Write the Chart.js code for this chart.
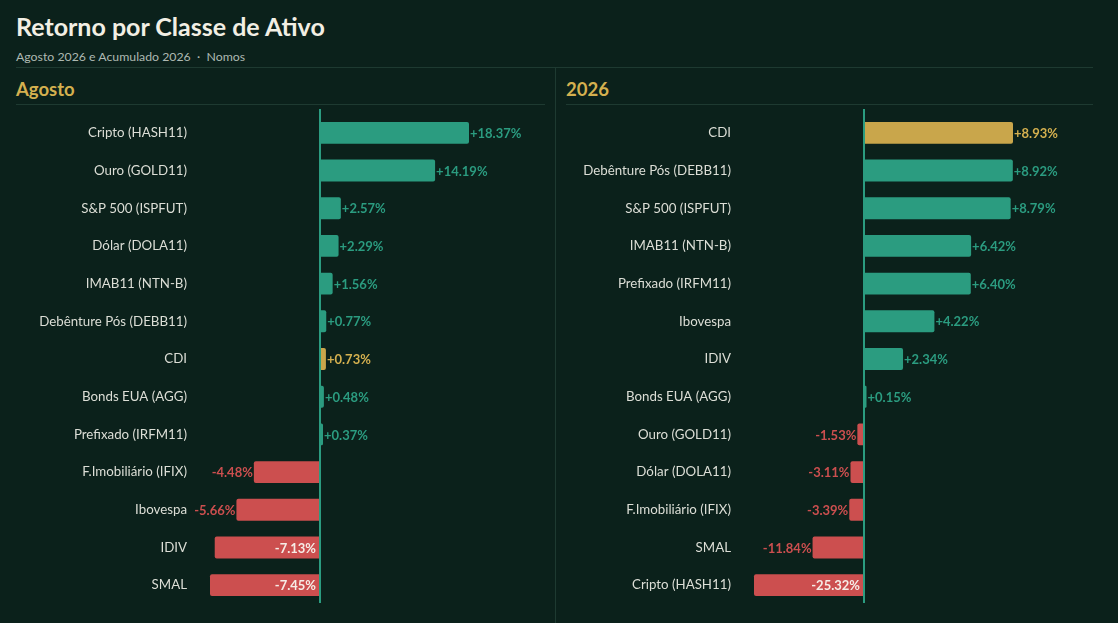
<!DOCTYPE html>
<html lang="pt-BR">
<head>
<meta charset="utf-8">
<title>Retorno por Classe de Ativo</title>
<script src="https://cdn.jsdelivr.net/npm/chart.js@4.4.1/dist/chart.umd.min.js"></script>
<style>
  html, body { margin: 0; padding: 0; }
  body {
    width: 1118px; height: 623px; overflow: hidden; position: relative;
    background: #0b211b; font-family: Lato, "Noto Sans", sans-serif;
  }
  .title { position: absolute; left: 16px; top: 11px; font-size: 25px; font-weight: 700; color: #f2efe4; }
  .subtitle { position: absolute; left: 16px; top: 49px; font-size: 12.3px; color: #aeb9b2; }
  .rule-top { position: absolute; left: 16px; top: 67px; width: 1077px; height: 1px; background: #1e3a31; }
  .rule-mid { position: absolute; left: 555px; top: 68px; width: 1px; height: 555px; background: #1e3a31; }
  .panel-head { position: absolute; top: 78px; font-size: 18.5px; font-weight: 700; color: #d4b04f; }
  .panel-rule { position: absolute; top: 104px; height: 1px; background: #1e3a31; }
  .chart-box { position: absolute; top: 97px; height: 524px; }
</style>
</head>
<body>
<div class="title">Retorno por Classe de Ativo</div>
<div class="subtitle">Agosto 2026 e Acumulado 2026 &nbsp;·&nbsp; Nomos</div>
<div class="rule-top"></div>
<div class="rule-mid"></div>

<div class="panel-head" style="left:16px">Agosto</div>
<div class="panel-rule" style="left:16px;width:529px"></div>
<div class="chart-box" style="left:16px;width:529px"><canvas id="augChart"></canvas></div>

<div class="panel-head" style="left:566px">2026</div>
<div class="panel-rule" style="left:566px;width:527px"></div>
<div class="chart-box" style="left:566px;width:527px"><canvas id="ytdChart"></canvas></div>

<script>
// dados
const augLabels = [
  "Cripto (HASH11)", "Ouro (GOLD11)", "S&P 500 (ISPFUT)", "Dólar (DOLA11)",
  "IMAB11 (NTN-B)", "Debênture Pós (DEBB11)", "CDI", "Bonds EUA (AGG)",
  "Prefixado (IRFM11)", "F.Imobiliário (IFIX)", "Ibovespa", "IDIV", "SMAL",
];
const augValues = [18.37, 14.19, 2.57, 2.29, 1.56, 0.77, 0.73, 0.48, 0.37, -4.48, -5.66, -7.13, -7.45];

const ytdLabels = [
  "CDI", "Debênture Pós (DEBB11)", "S&P 500 (ISPFUT)", "IMAB11 (NTN-B)",
  "Prefixado (IRFM11)", "Ibovespa", "IDIV", "Bonds EUA (AGG)", "Ouro (GOLD11)",
  "Dólar (DOLA11)", "F.Imobiliário (IFIX)", "SMAL", "Cripto (HASH11)",
];
const ytdValues = [8.93, 8.92, 8.79, 6.42, 6.40, 4.22, 2.34, 0.15, -1.53, -3.11, -3.39, -11.84, -25.32];

const highlightLabel = "CDI";

// cores
const GREEN = "#2b9c80";
const GOLD = "#c9a64b";
const RED = "#cc4f4f";
const LABEL_GOLD = "#d4b04f";
const INSIDE_TEXT = "#f6ece6";

// geometria: cada lado (positivo / negativo) tem sua propria escala
const ZERO_OFFSET = 124;
const POS_LEN = 149;
const NEG_LEN = 110;
const INSIDE_MIN = 90;

const valueLabels = {
  id: "valueLabels",
  afterDatasetsDraw(chart) {
    const ctx = chart.ctx;
    const area = chart.chartArea;
    const zx = chart.scales.xPos.getPixelForValue(0);
    ctx.save();
    ctx.strokeStyle = GREEN;
    ctx.lineWidth = 2;
    ctx.beginPath();
    ctx.moveTo(zx, area.top - 5);
    ctx.lineTo(zx, area.bottom - 1);
    ctx.stroke();

    ctx.font = "700 13px Lato, 'Noto Sans', sans-serif";
    ctx.textBaseline = "middle";
    chart.data.datasets.forEach((ds, di) => {
      const meta = chart.getDatasetMeta(di);
      meta.data.forEach((bar, i) => {
        const v = ds.data[i];
        if (v === null || v === undefined) return;
        const txt = (v > 0 ? "+" : "") + v.toFixed(2) + "%";
        const isHi = chart.data.labels[i] === highlightLabel;
        if (v > 0) {
          ctx.textAlign = "left";
          ctx.fillStyle = isHi ? LABEL_GOLD : GREEN;
          ctx.fillText(txt, bar.x + 1, bar.y + 1);
        } else {
          const w = bar.base - bar.x;
          ctx.textAlign = "right";
          if (w > INSIDE_MIN) {
            ctx.fillStyle = INSIDE_TEXT;
            ctx.fillText(txt, bar.base - 4, bar.y + 1);
          } else {
            ctx.fillStyle = RED;
            ctx.fillText(txt, bar.x - 1, bar.y + 1);
          }
        }
      });
    });
    ctx.restore();
  },
};

function makePanel(id, labels, values, axisWidth, boxWidth) {
  const plotW = boxWidth - axisWidth;
  const maxPos = Math.max(...values.filter((v) => v > 0));
  const maxNeg = Math.max(...values.filter((v) => v < 0).map((v) => -v));
  const posPpu = POS_LEN / maxPos;
  const negPpu = NEG_LEN / maxNeg;
  const colors = labels.map((l) => (l === highlightLabel ? GOLD : GREEN));

  return new Chart(document.getElementById(id), {
    type: "bar",
    data: {
      labels: labels,
      datasets: [
        {
          data: values.map((v) => (v > 0 ? v : null)),
          xAxisID: "xPos",
          backgroundColor: colors,
          grouped: false,
          barPercentage: 0.58,
          categoryPercentage: 1,
          borderRadius: 2,
        },
        {
          data: values.map((v) => (v < 0 ? v : null)),
          xAxisID: "xNeg",
          backgroundColor: RED,
          grouped: false,
          barPercentage: 0.58,
          categoryPercentage: 1,
          borderRadius: 2,
        },
      ],
    },
    options: {
      indexAxis: "y",
      responsive: true,
      maintainAspectRatio: false,
      animation: false,
      layout: { padding: 0 },
      plugins: { legend: { display: false }, tooltip: { enabled: false } },
      scales: {
        y: {
          position: "left",
          grid: { display: false, drawTicks: false },
          border: { display: false },
          ticks: {
            color: "#dcded6",
            font: { family: "Lato", size: 13.3 },
            padding: 9,
          },
          afterFit: (s) => { s.width = axisWidth; },
        },
        xPos: {
          type: "linear",
          display: false,
          min: -ZERO_OFFSET / posPpu,
          max: (plotW - ZERO_OFFSET) / posPpu,
        },
        xNeg: {
          type: "linear",
          display: false,
          min: -ZERO_OFFSET / negPpu,
          max: (plotW - ZERO_OFFSET) / negPpu,
        },
      },
    },
    plugins: [valueLabels],
  });
}

makePanel("augChart", augLabels, augValues, 180, 529);
makePanel("ytdChart", ytdLabels, ytdValues, 174, 527);
</script>
</body>
</html>
